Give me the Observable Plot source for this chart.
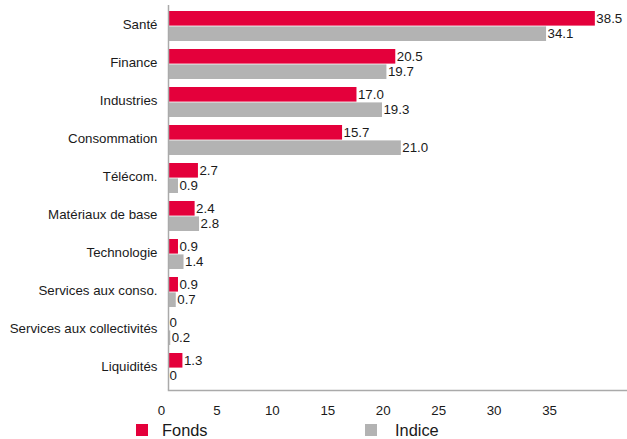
<!DOCTYPE html>
<html>
<head>
<meta charset="utf-8">
<script src="https://cdn.jsdelivr.net/npm/d3@7"></script>
<script src="https://cdn.jsdelivr.net/npm/@observablehq/plot@0.6"></script>
<style>
  html, body { margin: 0; padding: 0; background: #fff; }
  body { font-family: "Liberation Sans", Arial, sans-serif; width: 627px; height: 439px; overflow: hidden; }
  #legend { position: relative; height: 19px; width: 627px; }
  .sw { position: absolute; top: 4px; width: 12px; height: 12px; }
  .lbl { position: absolute; top: 0px; font-size: 16.4px; line-height: 20px; color: #1a1a1a; }
</style>
</head>
<body>
<div id="chart"></div>
<div id="legend"></div>
<script>
const categories = ["Santé", "Finance", "Industries", "Consommation", "Télécom.", "Matériaux de base", "Technologie", "Services aux conso.", "Services aux collectivités", "Liquidités"];
const fonds = [38.5, 20.5, 17.0, 15.7, 2.7, 2.4, 0.9, 0.9, 0, 1.3];
const indice = [34.1, 19.7, 19.3, 21.0, 0.9, 2.8, 1.4, 0.7, 0.2, 0];
const xTicks = [0, 5, 10, 15, 20, 25, 30, 35];
const seriesNames = ["Fonds", "Indice"];
const seriesColors = ["#E4003B", "#B3B3B3"];

const W = 627, H = 420, mt = 5, mb = 30, ml = 168, mr = 0;
const pIn = 0.2, pOut = 0.1;
const step = (H - mt - mb) / (categories.length - pIn + 2 * pOut);
const half = step * (1 - pIn) / 2;

const dataF = categories.map((c, i) => ({cat: c, v: fonds[i]}));
const dataI = categories.map((c, i) => ({cat: c, v: indice[i]}));
const fmt = v => v === 0 ? "0" : v.toFixed(1);

const chart = Plot.plot({
  width: W, height: H,
  marginTop: mt, marginBottom: mb, marginLeft: ml, marginRight: mr,
  style: {fontFamily: "'Liberation Sans', Arial, sans-serif", fontSize: "13px", color: "#1a1a1a"},
  x: {domain: [0, 41.4]},
  y: {domain: categories, paddingInner: pIn, paddingOuter: pOut},
  marks: [
    Plot.barX(dataF, {y: "cat", x: "v", fill: seriesColors[0], insetBottom: half}),
    Plot.barX(dataI, {y: "cat", x: "v", fill: seriesColors[1], insetTop: half}),
    Plot.text(dataF, {y: "cat", x: "v", text: d => fmt(d.v), textAnchor: "start", dx: 1, dy: -half / 2, fontSize: 13.3, fill: "#1a1a1a"}),
    Plot.text(dataI, {y: "cat", x: "v", text: d => fmt(d.v), textAnchor: "start", dx: 1, dy: half / 2, fontSize: 13.3, fill: "#1a1a1a"}),
    Plot.ruleX([0], {stroke: "#aaa", strokeWidth: 1.5}),
    Plot.frame({anchor: "bottom", stroke: "#aaa", strokeWidth: 1.5}),
    Plot.axisX({ticks: xTicks, tickSize: 0, tickPadding: 15, dx: -7, label: null, fontSize: 13.3, fill: "#1a1a1a"}),
    Plot.axisY({tickSize: 0, tickPadding: 11, dy: -2, label: null, fontSize: 13.3, fill: "#1a1a1a"})
  ]
});
document.getElementById("chart").appendChild(chart);

const legend = document.getElementById("legend");
const pos = [[136, 162], [365, 395]];
seriesNames.forEach((n, i) => {
  const sw = document.createElement("div");
  sw.className = "sw";
  sw.style.left = pos[i][0] + "px";
  sw.style.background = seriesColors[i];
  legend.appendChild(sw);
  const t = document.createElement("div");
  t.className = "lbl";
  t.style.left = pos[i][1] + "px";
  t.textContent = n;
  legend.appendChild(t);
});
</script>
</body>
</html>
